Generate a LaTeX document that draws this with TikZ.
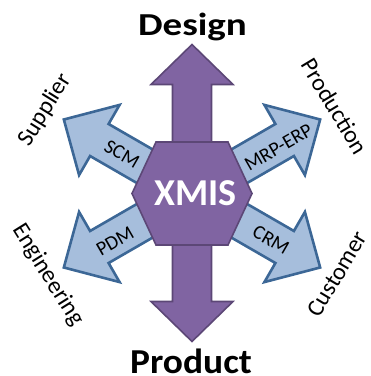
\documentclass[tikz,border=0pt]{standalone}
\usepackage{fontspec}
\setmainfont{Carlito}
\definecolor{bluefill}{HTML}{A6BEDC}
\definecolor{bluedraw}{HTML}{3C6796}
\definecolor{purfill}{HTML}{8064A2}
\definecolor{purdraw}{HTML}{5C4776}
\tikzset{
  bluearrow/.style={fill=bluefill,draw=bluedraw,line width=2.6pt,line join=miter},
  purarrow/.style={fill=purfill,draw=purdraw,line width=1.6pt,line join=miter},
  innerlabel/.style={font=\fontsize{20}{20}\selectfont,inner sep=0pt},
  outerlabel/.style={font=\fontsize{24}{24}\selectfont,inner sep=0pt},
  titlelabel/.style={font=\bfseries,inner sep=0pt}
}
\begin{document}
\begin{tikzpicture}[x=1pt,y=1pt]
\useasboundingbox (0,0) rectangle (371,376);
\coordinate (c) at (192,182.5);
% blue diagonal arrows
\foreach \ang in {30,150,210,330}{
  \draw[bluearrow,shift={(c)},rotate=\ang]
    (30,18.5) -- (107,18.5) -- (107,40.5) -- (148,0) -- (107,-40.5) -- (107,-18.5) -- (30,-18.5) -- cycle;
}
% vertical purple double arrow
\draw[purarrow,shift={(c)}]
  (-19.5,-109) -- (-19.5,109) -- (-41,109) -- (0,149) -- (41,109) -- (19.5,109)
  -- (19.5,-108) -- (41,-108) -- (0,-148) -- (-41,-108) -- (-19.5,-108) -- cycle;
% hexagon
\draw[purarrow,shift={(c)}] (-60,0) -- (-36,51.5) -- (36,51.5) -- (60,0) -- (36,-51.5) -- (-36,-51.5) -- cycle;
\node[inner sep=0pt,text=white,font=\bfseries\fontsize{38}{38}\selectfont] (xmis) at (195.5,183) {XMIS};
% inner labels
\node[innerlabel,rotate=-30] (scm) at (122,222) {SCM};
\node[innerlabel,rotate=30] (mrp) at (278.5,228.5) {MRP-ERP};
\node[innerlabel,rotate=30] (pdm) at (115,135) {PDM};
\node[innerlabel,rotate=-30] (crm) at (271,136) {CRM};
% outer labels
\node[outerlabel,rotate=58] (sup) at (45,266) {Supplier};
\node[outerlabel,rotate=-59] (prod) at (335,269.5) {Production};
\node[outerlabel,rotate=-58] (eng) at (48,101) {Engineering};
\node[outerlabel,rotate=59] (cust) at (337,102) {Customer};
% titles
\node[titlelabel] (design) at (192.5,349) {\fontsize{32}{32}\selectfont\scalebox{1.22}[1]{Design}};
\node[titlelabel,anchor=base] (product) at (191,2.5) {\fontsize{35}{35}\selectfont\scalebox{1.07}[1]{Product}};
\end{tikzpicture}
\end{document}
